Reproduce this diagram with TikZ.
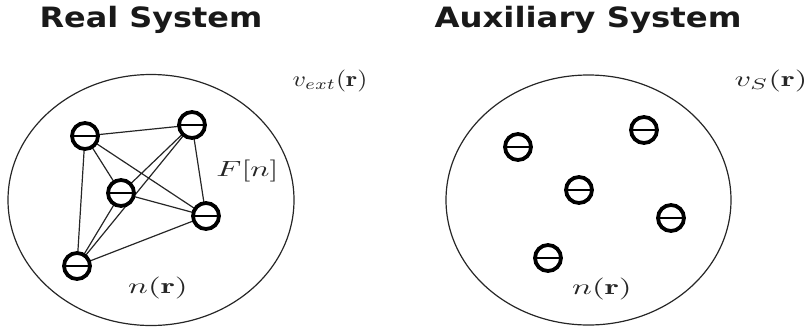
\documentclass[tikz,border=0pt]{standalone}
\usetikzlibrary{shapes.geometric}
\usepackage{fontspec}
\newfontfamily\titlefont{DejaVu Sans}[BoldFont={DejaVu Sans Bold}]
\tikzset{
  region/.style={draw=black!85,line width=1.2pt},
  elec/.style={circle,draw=black,line width=3.8pt,minimum size=26pt,inner sep=0pt,fill=white,
    path picture={\draw[line width=2pt,black] ([xshift=-12pt]path picture bounding box.center) -- ([xshift=12pt]path picture bounding box.center);}},
  bond/.style={draw=black!85,line width=1.2pt},
  heading/.style={inner sep=0pt,font=\titlefont\bfseries\fontsize{28}{32}\selectfont,text=black!90,anchor=base},
  lab/.style={inner sep=0pt,text=black!85}
}
\begin{document}
\begin{tikzpicture}[x=1pt,y=-1pt]
\useasboundingbox (0,0) rectangle (808,327);
\node[heading] (t1) at (151,27) {\scalebox{1.14}[1]{Real System}};
\node[heading] (t2) at (588,27) {\scalebox{1.155}[1]{Auxiliary System}};
\node[region,ellipse,minimum width=286pt,minimum height=251pt,inner sep=0pt] (r1) at (151,200) {};
\node[region,ellipse,minimum width=285pt,minimum height=250pt,inner sep=0pt] (r2) at (588.5,200) {};
\coordinate (a) at (85,136);
\coordinate (b) at (192,125);
\coordinate (c) at (121,193);
\coordinate (d) at (206,216);
\coordinate (e) at (77,266);
\draw[bond] (a)--(b) (a)--(c) (a)--(d) (a)--(e) (b)--(d) (c)--(d) (c)--(e) (d)--(e) (b)--(c) (b)--(e);
\node[elec] (A) at (a) {};
\node[elec] (B) at (b) {};
\node[elec] (C) at (c) {};
\node[elec] (D) at (d) {};
\node[elec] (E) at (e) {};
\node[elec] (p) at (518,147) {};
\node[elec] (q) at (644,130) {};
\node[elec] (s) at (579,190) {};
\node[elec] (u) at (671,218) {};
\node[elec] (w) at (548,258) {};
\node[lab] (l1) at (158,288) {\scalebox{3.3}[2.2]{$n(\mathbf{r})$}};
\node[lab] (l2) at (247.5,171) {\scalebox{3.2}[2.2]{$F[n]$}};
\node[lab] (l3) at (330,81) {\scalebox{2.6}[2.2]{$v_{ext}(\mathbf{r})$}};
\node[lab] (l4) at (602,289) {\scalebox{3.3}[2.2]{$n(\mathbf{r})$}};
\node[lab] (l5) at (771,81) {\scalebox{3.2}[2.2]{$v_{S}(\mathbf{r})$}};
\end{tikzpicture}
\end{document}
